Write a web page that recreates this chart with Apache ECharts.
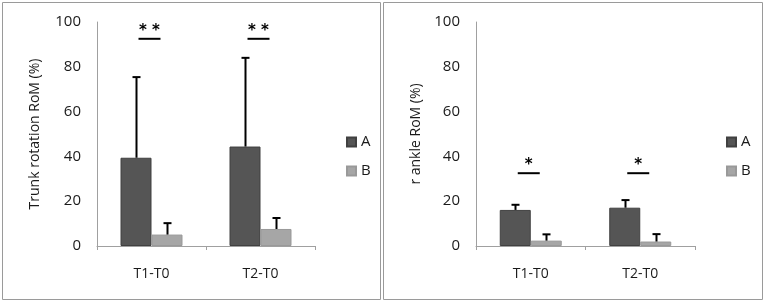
<!DOCTYPE html>
<html>
<head>
<meta charset="utf-8">
<script src="https://cdn.jsdelivr.net/npm/echarts@6/dist/echarts.min.js"></script>
<style>
  html, body { margin: 0; padding: 0; background: #fff; }
  #chart { width: 765px; height: 304px; }
</style>
</head>
<body>
<div id="chart"></div>
<script>
const categories = ['T1-T0', 'T2-T0']
const yTicks = [0, 20, 40, 60, 80, 100]

// left panel: trunk rotation
const trunkA = [39.4, 44.4]
const trunkASd = [36.0, 39.6]
const trunkB = [5.1, 7.6]
const trunkBSd = [5.1, 4.9]
const trunkSigLevel = [92.5, 92.5]
const trunkSigLabel = ['* *', '* *']

// right panel: r ankle
const ankleA = [16.1, 17.1]
const ankleASd = [2.3, 3.4]
const ankleB = [2.4, 2.0]
const ankleBSd = [2.8, 3.3]
const ankleSigLevel = [32.5, 32.5]
const ankleSigLabel = ['*', '*']

const BAR_W = 31
const FONT = 'Open Sans'
const TEXT = '#1a1a1a'
const AXIS = '#a0a0a0'

const chart = echarts.init(document.getElementById('chart'))

const errorSeries = (name, idx, means, sds, dx) => ({
  name,
  type: 'custom',
  xAxisIndex: idx,
  yAxisIndex: idx,
  z: 5,
  data: means.map((m, i) => [i, m, m + sds[i]]),
  renderItem: (params, api) => {
    const base = api.coord([api.value(0), api.value(1)])
    const top = api.coord([api.value(0), api.value(2)])
    const x = Math.round(base[0] + dx) + 0.5
    const style = { stroke: '#000', lineWidth: 2 }
    return {
      type: 'group',
      children: [
        { type: 'line', shape: { x1: x, y1: base[1], x2: x, y2: top[1] }, style },
        { type: 'line', shape: { x1: x - 4, y1: top[1], x2: x + 4, y2: top[1] }, style }
      ]
    }
  }
})

const sigSeries = (name, idx, levels, labels) => ({
  name,
  type: 'custom',
  xAxisIndex: idx,
  yAxisIndex: idx,
  z: 5,
  data: levels.map((v, i) => [i, v]),
  renderItem: (params, api) => {
    const p = api.coord([api.value(0), api.value(1)])
    const cx = p[0] - 2
    return {
      type: 'group',
      children: [
        { type: 'line', shape: { x1: cx - 11, y1: p[1], x2: cx + 11, y2: p[1] },
          style: { stroke: '#000', lineWidth: 2 } },
        { type: 'text', x: cx, y: p[1] - 8,
          style: { text: labels[params.dataIndex], fill: '#000', font: 'bold 15px DejaVu Sans',
                   align: 'center', verticalAlign: 'middle' } }
      ]
    }
  }
})

const barSeries = (name, idx, values, color, border) => ({
  name,
  type: 'bar',
  xAxisIndex: idx,
  yAxisIndex: idx,
  barWidth: BAR_W,
  barGap: '0%',
  data: values,
  itemStyle: { color, borderColor: border, borderWidth: 1 }
})

const grids = [
  { left: 97, top: 22, width: 218, height: 224 },
  { left: 476, top: 22, width: 219, height: 224 }
]

const xAxis = grids.map((g, i) => ({
  type: 'category',
  gridIndex: i,
  data: categories,
  axisLine: { lineStyle: { color: AXIS, width: 1 } },
  axisTick: { show: true, length: 4, lineStyle: { color: AXIS } },
  axisLabel: { color: TEXT, fontFamily: FONT, fontSize: 14, margin: 21 }
}))

const yAxis = [
  { name: 'Trunk rotation RoM (%)' },
  { name: 'r ankle RoM (%)' }
].map((a, i) => ({
  type: 'value',
  gridIndex: i,
  min: yTicks[0],
  max: yTicks[yTicks.length - 1],
  interval: yTicks[1] - yTicks[0],
  name: a.name,
  nameLocation: 'middle',
  nameGap: i === 0 ? 55 : 53,
  nameTextStyle: { color: TEXT, fontFamily: FONT, fontSize: 14 },
  axisLine: { show: true, lineStyle: { color: AXIS, width: 1 } },
  axisTick: { show: false },
  splitLine: { show: false },
  axisLabel: { color: TEXT, fontFamily: FONT, fontSize: 15, margin: 16 }
}))

const legends = [341, 721].map(left => ({
  data: ['A', 'B'],
  orient: 'vertical',
  left,
  top: 129,
  itemWidth: 9,
  itemHeight: 9,
  itemGap: 13,
  icon: 'rect',
  textStyle: { color: TEXT, fontFamily: FONT, fontSize: 15, lineHeight: 16, padding: [0, 0, 0, 0] }
}))

chart.setOption({
  animation: false,
  backgroundColor: '#fff',
  graphic: [
    { type: 'rect', shape: { x: 2.5, y: 2.5, width: 378, height: 297 },
      style: { fill: 'none', stroke: '#9a9a9a', lineWidth: 1 } },
    { type: 'rect', shape: { x: 383.5, y: 2.5, width: 379, height: 297 },
      style: { fill: 'none', stroke: '#9a9a9a', lineWidth: 1 } }
  ],
  legend: legends,
  grid: grids,
  xAxis,
  yAxis,
  series: [
    barSeries('A', 0, trunkA, '#555555', '#404040'),
    barSeries('B', 0, trunkB, '#a6a6a6', '#999999'),
    errorSeries('errA0', 0, trunkA, trunkASd, -BAR_W / 2),
    errorSeries('errB0', 0, trunkB, trunkBSd, BAR_W / 2),
    sigSeries('sig0', 0, trunkSigLevel, trunkSigLabel),
    barSeries('A', 1, ankleA, '#555555', '#404040'),
    barSeries('B', 1, ankleB, '#a6a6a6', '#999999'),
    errorSeries('errA1', 1, ankleA, ankleASd, -BAR_W / 2),
    errorSeries('errB1', 1, ankleB, ankleBSd, BAR_W / 2),
    sigSeries('sig1', 1, ankleSigLevel, ankleSigLabel)
  ]
})

window.addEventListener('resize', () => chart.resize())
</script>
</body>
</html>
